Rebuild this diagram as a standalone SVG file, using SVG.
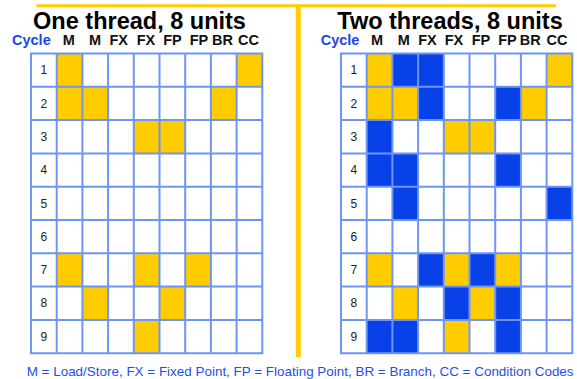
<svg xmlns="http://www.w3.org/2000/svg" width="577" height="379" viewBox="0 0 577 379">
<style>
.bg{fill:#ffffff}
.title{font-family:"Liberation Sans",Arial,sans-serif;font-weight:bold;font-size:23.5px;fill:#000;text-anchor:middle}
.hdr{font-family:"Liberation Sans",Arial,sans-serif;font-weight:bold;font-size:14.5px;fill:#111;text-anchor:middle}
.cyc{font-family:"Liberation Sans",Arial,sans-serif;font-weight:bold;font-size:14.5px;fill:#1a48e6}
.num{font-family:"Liberation Sans",Arial,sans-serif;font-size:12px;fill:#222;text-anchor:middle}
.foot{font-family:"Liberation Sans",Arial,sans-serif;font-size:13.45px;fill:#1f4fe8}
.y{fill:#ffcc00}
.b{fill:#0841e8}
.cell{fill:#ffffff}
.gl{stroke:#6e95f4;stroke-width:2;fill:none}
.sep{stroke:#ffcc00;fill:none}
</style>
<rect class="bg" x="0" y="0" width="577" height="379"/>

<g id="separators">
<line class="sep" x1="36.5" y1="5.8" x2="556" y2="5.8" stroke-width="3"/>
<line class="sep" x1="298.3" y1="7" x2="298.3" y2="357" stroke-width="5"/>
</g>

<g id="left-panel">
<text class="title" x="139.5" y="28.5">One thread, 8 units</text>
<g id="left-header">
<text class="cyc" x="12" y="45">Cycle</text>
<text class="hdr" x="68.8" y="45">M</text>
<text class="hdr" x="95" y="45">M</text>
<text class="hdr" x="118.7" y="45">FX</text>
<text class="hdr" x="146" y="45">FX</text>
<text class="hdr" x="172.5" y="45">FP</text>
<text class="hdr" x="199" y="45">FP</text>
<text class="hdr" x="222.6" y="45">BR</text>
<text class="hdr" x="248.6" y="45">CC</text>
</g>
<g id="left-grid">
<rect class="cell" x="31" y="53.5" width="231.3" height="299.7"/>
<g id="left-fills">
<rect class="y" x="56.7" y="53.5" width="25.7" height="33.3"/>
<rect class="y" x="236.6" y="53.5" width="25.7" height="33.3"/>
<rect class="y" x="56.7" y="86.8" width="25.7" height="33.3"/>
<rect class="y" x="82.4" y="86.8" width="25.7" height="33.3"/>
<rect class="y" x="210.9" y="86.8" width="25.7" height="33.3"/>
<rect class="y" x="133.8" y="120.1" width="25.7" height="33.3"/>
<rect class="y" x="159.5" y="120.1" width="25.7" height="33.3"/>
<rect class="y" x="56.7" y="253.3" width="25.7" height="33.3"/>
<rect class="y" x="133.8" y="253.3" width="25.7" height="33.3"/>
<rect class="y" x="185.2" y="253.3" width="25.7" height="33.3"/>
<rect class="y" x="82.4" y="286.6" width="25.7" height="33.3"/>
<rect class="y" x="159.5" y="286.6" width="25.7" height="33.3"/>
<rect class="y" x="133.8" y="319.9" width="25.7" height="33.3"/>
</g>
<path class="gl" d="M31 53.5V353.2M56.7 53.5V353.2M82.4 53.5V353.2M108.1 53.5V353.2M133.8 53.5V353.2M159.5 53.5V353.2M185.2 53.5V353.2M210.9 53.5V353.2M236.6 53.5V353.2M262.3 53.5V353.2M30 53.5H263.3M30 86.8H263.3M30 120.1H263.3M30 153.4H263.3M30 186.7H263.3M30 220H263.3M30 253.3H263.3M30 286.6H263.3M30 319.9H263.3M30 353.2H263.3"/>
<g id="left-cycles">
<text class="num" x="43.8" y="74.3">1</text>
<text class="num" x="43.8" y="107.6">2</text>
<text class="num" x="43.8" y="140.9">3</text>
<text class="num" x="43.8" y="174.2">4</text>
<text class="num" x="43.8" y="207.5">5</text>
<text class="num" x="43.8" y="240.8">6</text>
<text class="num" x="43.8" y="274.1">7</text>
<text class="num" x="43.8" y="307.4">8</text>
<text class="num" x="43.8" y="340.7">9</text>
</g>
</g>
</g>

<g id="right-panel">
<text class="title" x="450" y="28.5">Two threads, 8 units</text>
<g id="right-header">
<text class="cyc" x="320.7" y="45">Cycle</text>
<text class="hdr" x="377" y="45">M</text>
<text class="hdr" x="403.7" y="45">M</text>
<text class="hdr" x="427.5" y="45">FX</text>
<text class="hdr" x="454" y="45">FX</text>
<text class="hdr" x="481" y="45">FP</text>
<text class="hdr" x="507.5" y="45">FP</text>
<text class="hdr" x="530.2" y="45">BR</text>
<text class="hdr" x="557" y="45">CC</text>
</g>
<g id="right-grid">
<rect class="cell" x="341" y="53.5" width="231.3" height="299.7"/>
<g id="right-fills">
<rect class="y" x="366.7" y="53.5" width="25.7" height="33.3"/>
<rect class="b" x="392.4" y="53.5" width="25.7" height="33.3"/>
<rect class="b" x="418.1" y="53.5" width="25.7" height="33.3"/>
<rect class="y" x="546.6" y="53.5" width="25.7" height="33.3"/>
<rect class="y" x="366.7" y="86.8" width="25.7" height="33.3"/>
<rect class="y" x="392.4" y="86.8" width="25.7" height="33.3"/>
<rect class="b" x="418.1" y="86.8" width="25.7" height="33.3"/>
<rect class="b" x="495.2" y="86.8" width="25.7" height="33.3"/>
<rect class="y" x="520.9" y="86.8" width="25.7" height="33.3"/>
<rect class="b" x="366.7" y="120.1" width="25.7" height="33.3"/>
<rect class="y" x="443.8" y="120.1" width="25.7" height="33.3"/>
<rect class="y" x="469.5" y="120.1" width="25.7" height="33.3"/>
<rect class="b" x="366.7" y="153.4" width="25.7" height="33.3"/>
<rect class="b" x="392.4" y="153.4" width="25.7" height="33.3"/>
<rect class="b" x="495.2" y="153.4" width="25.7" height="33.3"/>
<rect class="b" x="392.4" y="186.7" width="25.7" height="33.3"/>
<rect class="b" x="546.6" y="186.7" width="25.7" height="33.3"/>
<rect class="y" x="366.7" y="253.3" width="25.7" height="33.3"/>
<rect class="b" x="418.1" y="253.3" width="25.7" height="33.3"/>
<rect class="y" x="443.8" y="253.3" width="25.7" height="33.3"/>
<rect class="b" x="469.5" y="253.3" width="25.7" height="33.3"/>
<rect class="y" x="495.2" y="253.3" width="25.7" height="33.3"/>
<rect class="y" x="392.4" y="286.6" width="25.7" height="33.3"/>
<rect class="b" x="443.8" y="286.6" width="25.7" height="33.3"/>
<rect class="y" x="469.5" y="286.6" width="25.7" height="33.3"/>
<rect class="b" x="495.2" y="286.6" width="25.7" height="33.3"/>
<rect class="b" x="366.7" y="319.9" width="25.7" height="33.3"/>
<rect class="b" x="392.4" y="319.9" width="25.7" height="33.3"/>
<rect class="y" x="443.8" y="319.9" width="25.7" height="33.3"/>
<rect class="b" x="495.2" y="319.9" width="25.7" height="33.3"/>
</g>
<path class="gl" d="M341 53.5V353.2M366.7 53.5V353.2M392.4 53.5V353.2M418.1 53.5V353.2M443.8 53.5V353.2M469.5 53.5V353.2M495.2 53.5V353.2M520.9 53.5V353.2M546.6 53.5V353.2M572.3 53.5V353.2M340 53.5H573.3M340 86.8H573.3M340 120.1H573.3M340 153.4H573.3M340 186.7H573.3M340 220H573.3M340 253.3H573.3M340 286.6H573.3M340 319.9H573.3M340 353.2H573.3"/>
<g id="right-cycles">
<text class="num" x="353.8" y="74.3">1</text>
<text class="num" x="353.8" y="107.6">2</text>
<text class="num" x="353.8" y="140.9">3</text>
<text class="num" x="353.8" y="174.2">4</text>
<text class="num" x="353.8" y="207.5">5</text>
<text class="num" x="353.8" y="240.8">6</text>
<text class="num" x="353.8" y="274.1">7</text>
<text class="num" x="353.8" y="307.4">8</text>
<text class="num" x="353.8" y="340.7">9</text>
</g>
</g>
</g>

<g id="legend">
<text class="foot" x="26.7" y="375.5">M = Load/Store, FX = Fixed Point, FP = Floating Point, BR = Branch, CC = Condition Codes</text>
</g>
</svg>
